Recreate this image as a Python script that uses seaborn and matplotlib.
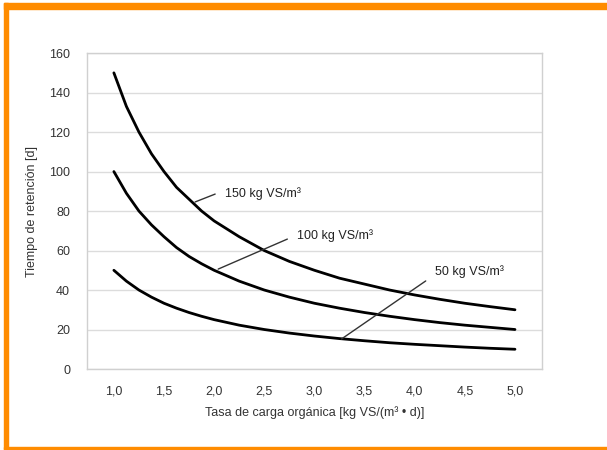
import numpy as np
import pandas as pd
import matplotlib.pyplot as plt
import seaborn as sns
from matplotlib.patches import Rectangle

# valores
carga = [1.0, 1.125, 1.25, 1.375, 1.5, 1.625, 1.75, 1.875, 2.0, 2.25, 2.5, 2.75,
         3.0, 3.25, 3.5, 3.75, 4.0, 4.25, 4.5, 4.75, 5.0]
t150 = [150, 133, 120, 109, 100, 92, 86, 80, 75, 67, 60, 54.5,
        50, 46, 43, 40, 37.5, 35.3, 33.3, 31.6, 30]
t100 = [100, 89, 80, 73, 67, 61.5, 57, 53.3, 50, 44.5, 40, 36.4,
        33.3, 30.8, 28.6, 26.7, 25, 23.5, 22.2, 21.1, 20]
t50 = [50, 44.5, 40, 36.4, 33.3, 30.8, 28.6, 26.7, 25, 22.2, 20, 18.2,
       16.7, 15.4, 14.3, 13.3, 12.5, 11.8, 11.1, 10.5, 10]
etiquetas = ["150 kg VS/m³", "100 kg VS/m³", "50 kg VS/m³"]
xticks = [1.0, 1.5, 2.0, 2.5, 3.0, 3.5, 4.0, 4.5, 5.0]
yticks = [0, 20, 40, 60, 80, 100, 120, 140, 160]

df = pd.DataFrame({"carga": carga * 3,
                   "tiempo": t150 + t100 + t50,
                   "serie": [etiquetas[0]] * len(carga) + [etiquetas[1]] * len(carga) + [etiquetas[2]] * len(carga)})

sns.set_style("white")
plt.rcParams["font.family"] = ["Liberation Sans", "DejaVu Sans"]

fig = plt.figure(figsize=(6.07, 4.5), dpi=100)
ax = fig.add_axes([0.143, 0.18, 0.75, 0.702])
sns.lineplot(data=df, x="carga", y="tiempo", units="serie", estimator=None,
             color="black", lw=2, ax=ax, legend=False)

ax.set_xlim(0.73, 5.27)
ax.set_ylim(0, 160)
ax.set_yticks(yticks)
ax.set_xticks(xticks)
ax.set_xticklabels([f"{v:.1f}".replace(".", ",") for v in xticks], fontsize=9, color="#333333")
ax.set_xticks(np.arange(1.25, 5.0, 0.5), minor=True)
ax.tick_params(axis="x", which="major", length=0, pad=12)
ax.tick_params(axis="x", which="minor", length=4, color="#c8c8c8", width=1)
ax.tick_params(axis="y", length=4, color="#c8c8c8", labelsize=9, labelcolor="#333333", pad=8)
ax.grid(axis="y", color="#dcdcdc", lw=1)
ax.set_axisbelow(True)
for s in ax.spines.values():
    s.set_color("#d0d0d0")
    s.set_linewidth(1)

ax.set_xlabel("Tasa de carga orgánica [kg VS/(m³ • d)]", fontsize=9, color="#333333", labelpad=6)
ax.set_ylabel("Tiempo de retención [d]", fontsize=9, color="#333333", labelpad=8)

# lineas de anotacion
ax.plot([1.81, 2.01], [84.6, 88.6], color="#333333", lw=1)
ax.text(2.11, 88.6, etiquetas[0], fontsize=9, va="center", color="#222222")
ax.plot([2.04, 2.73], [50.6, 65.8], color="#333333", lw=1)
ax.text(2.83, 67.8, etiquetas[1], fontsize=9, va="center", color="#222222")
ax.plot([3.27, 4.11], [15.2, 44.6], color="#333333", lw=1)
ax.text(4.20, 49.1, etiquetas[2], fontsize=9, va="center", color="#222222")

# marco naranja
naranja = "#ff8c00"
fig.patches.append(Rectangle((0.006, 0), 0.008, 0.993, transform=fig.transFigure, color=naranja))
fig.patches.append(Rectangle((0.006, 0.981), 0.994, 0.012, transform=fig.transFigure, color=naranja))
fig.patches.append(Rectangle((0.006, 0.003), 0.994, 0.003, transform=fig.transFigure, color=naranja))

fig.savefig("out.png", dpi=100)
